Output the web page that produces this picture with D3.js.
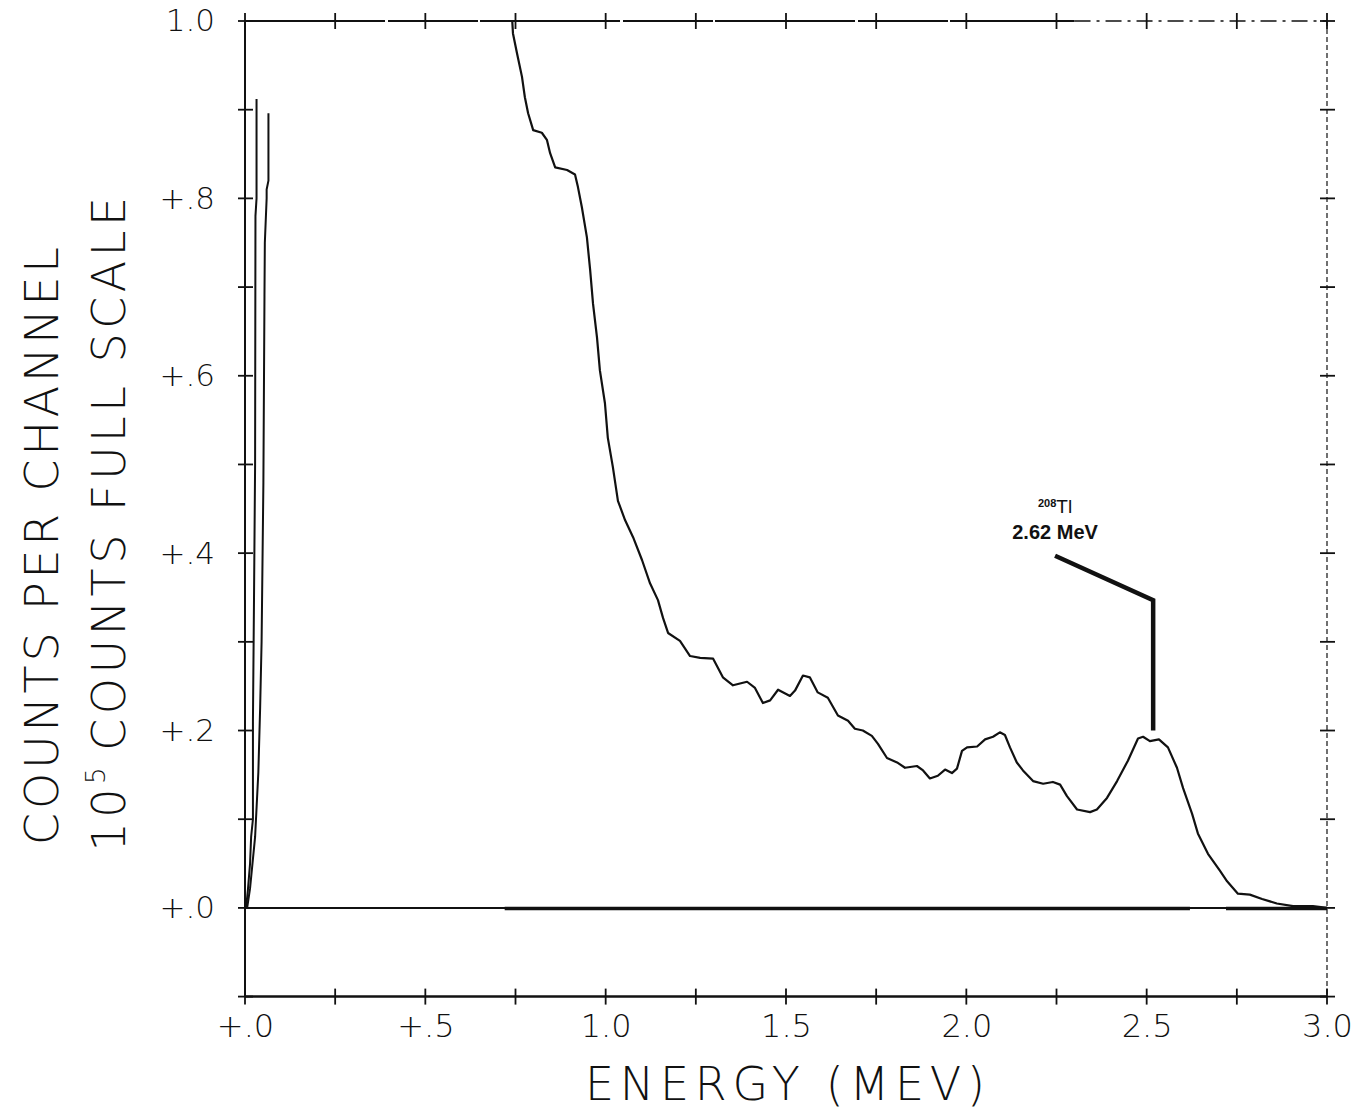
<!DOCTYPE html>
<html>
<head>
<meta charset="utf-8">
<script src="https://cdn.jsdelivr.net/npm/d3@7"></script>
<style>
  body { margin: 0; background: #fff; }
  svg { display: block; }
  .plotter { font-family: "DejaVu Sans", sans-serif; font-weight: 200; fill: #111; }
</style>
</head>
<body>
<svg></svg>
<script>
// Canvas
const width = 1372;
const height = 1111;

// Spectrum (energy in MeV, counts in 10^5 full scale)
const energy = [0.741, 0.743, 0.754, 0.768, 0.776, 0.785, 0.799, 0.823, 0.837, 0.846, 0.860,
  0.893, 0.915, 0.923, 0.934, 0.948, 0.957, 0.965, 0.976, 0.984, 0.998, 1.006, 1.020, 1.034,
  1.054, 1.076, 1.101, 1.123, 1.145, 1.159, 1.173, 1.206, 1.234, 1.262, 1.298, 1.325, 1.353,
  1.392, 1.414, 1.436, 1.456, 1.478, 1.511, 1.525, 1.547, 1.566, 1.588, 1.616, 1.644, 1.672,
  1.691, 1.713, 1.738, 1.755, 1.780, 1.808, 1.830, 1.863, 1.880, 1.899, 1.921, 1.941, 1.960,
  1.974, 1.988, 2.002, 2.030, 2.052, 2.074, 2.093, 2.107, 2.121, 2.140, 2.157, 2.185, 2.213,
  2.240, 2.260, 2.279, 2.307, 2.343, 2.362, 2.390, 2.418, 2.448, 2.476, 2.490, 2.509, 2.534,
  2.559, 2.584, 2.601, 2.626, 2.642, 2.670, 2.703, 2.723, 2.753, 2.786, 2.820, 2.861, 2.906,
  2.961, 3.000];
const counts = [1.000, 0.986, 0.964, 0.937, 0.914, 0.896, 0.877, 0.874, 0.866, 0.851, 0.835,
  0.832, 0.827, 0.813, 0.790, 0.756, 0.719, 0.681, 0.643, 0.606, 0.569, 0.530, 0.497, 0.459,
  0.437, 0.418, 0.392, 0.366, 0.347, 0.327, 0.310, 0.301, 0.284, 0.282, 0.281, 0.260, 0.251,
  0.255, 0.248, 0.231, 0.234, 0.246, 0.239, 0.245, 0.262, 0.260, 0.243, 0.237, 0.217, 0.211,
  0.202, 0.200, 0.194, 0.185, 0.169, 0.164, 0.158, 0.160, 0.155, 0.146, 0.149, 0.156, 0.152,
  0.157, 0.177, 0.181, 0.182, 0.190, 0.193, 0.198, 0.195, 0.181, 0.164, 0.155, 0.143, 0.140,
  0.142, 0.139, 0.126, 0.111, 0.108, 0.111, 0.124, 0.143, 0.166, 0.191, 0.193, 0.188, 0.190,
  0.181, 0.158, 0.135, 0.106, 0.084, 0.061, 0.042, 0.030, 0.016, 0.015, 0.010, 0.005, 0.002,
  0.002, 0.000];

// Low energy traces that run off the top (pen stopped before full scale)
const spikeAEnergy = [0.003, 0.008, 0.014, 0.017, 0.022, 0.022, 0.025, 0.028, 0.029, 0.032, 0.032];
const spikeACounts = [0.000, 0.020, 0.050, 0.080, 0.100, 0.210, 0.350, 0.500, 0.780, 0.800, 0.912];
const spikeBEnergy = [0.006, 0.014, 0.028, 0.037, 0.042, 0.046, 0.051, 0.054, 0.055, 0.060, 0.060, 0.065, 0.065];
const spikeBCounts = [0.000, 0.022, 0.080, 0.153, 0.226, 0.300, 0.480, 0.690, 0.750, 0.800, 0.810, 0.820, 0.896];

// Ticks and labels
const xTicks = d3.range(0, 3.01, 0.25);
const xLabelValues = [0, 0.5, 1.0, 1.5, 2.0, 2.5, 3.0];
const xTickLabels = ["+.0", "+.5", "1.0", "1.5", "2.0", "2.5", "3.0"];
const yTicks = d3.range(-0.1, 1.01, 0.1);
const yLabelValues = [0, 0.2, 0.4, 0.6, 0.8, 1.0];
const yTickLabels = ["+.0", "+.2", "+.4", "+.6", "+.8", "1.0"];

// Peak annotation (energy, counts)
const peakLabel = ["208", "Tl", "2.62 MeV"];
const leaderEnergy = [2.246, 2.518, 2.518];
const leaderCounts = [0.397, 0.347, 0.200];

const svg = d3.select("svg")
    .attr("width", width)
    .attr("height", height);

// Scales
const x = d3.scaleLinear().domain([0, 3]).range([245, 1327]);
const y = d3.scaleLinear().domain([-0.1, 1.0]).range([996.6, 21]);

const frame = svg.append("g");

// Left axis and bottom axis solid
frame.append("line")
    .attr("x1", x(0)).attr("x2", x(0))
    .attr("y1", y(1.0)).attr("y2", y(-0.1))
    .attr("stroke", "#111").attr("stroke-width", 2);
frame.append("line")
    .attr("x1", x(0)).attr("x2", x(3))
    .attr("y1", y(-0.1)).attr("y2", y(-0.1))
    .attr("stroke", "#111").attr("stroke-width", 2.5);
// Top border: mostly solid, broken near the right end
frame.append("line")
    .attr("x1", x(0)).attr("x2", x(2.3))
    .attr("y1", y(1.0)).attr("y2", y(1.0))
    .attr("stroke", "#111").attr("stroke-width", 2)
    .attr("stroke-dasharray", "140,3,90,2");
frame.append("line")
    .attr("x1", x(2.3)).attr("x2", x(3))
    .attr("y1", y(1.0)).attr("y2", y(1.0))
    .attr("stroke", "#111").attr("stroke-width", 1.5)
    .attr("stroke-dasharray", "16,6,3,6");
// Right border: dotted
frame.append("line")
    .attr("x1", x(3)).attr("x2", x(3))
    .attr("y1", y(1.0)).attr("y2", y(-0.1))
    .attr("stroke", "#111").attr("stroke-width", 1.2)
    .attr("stroke-dasharray", "5,3");

// Cross ticks
const crossX = frame.append("g");
[1.0, -0.1].forEach(v => {
    crossX.selectAll(null)
        .data(xTicks)
        .enter()
        .append("line")
        .attr("x1", d => x(d)).attr("x2", d => x(d))
        .attr("y1", y(v) - 8).attr("y2", y(v) + 8)
        .attr("stroke", "#111").attr("stroke-width", 1.8);
});
const crossY = frame.append("g");
[0, 3].forEach(u => {
    crossY.selectAll(null)
        .data(yTicks)
        .enter()
        .append("line")
        .attr("x1", x(u) - 7).attr("x2", x(u) + 8)
        .attr("y1", d => y(d)).attr("y2", d => y(d))
        .attr("stroke", "#111").attr("stroke-width", 1.8);
});

// Tick labels via d3 axes (no tick lines, crosses drawn above)
const xAxis = d3.axisBottom(x)
    .tickValues(xLabelValues)
    .tickFormat((d, i) => xTickLabels[i])
    .tickSize(0)
    .tickPadding(18);
svg.append("g")
    .attr("transform", `translate(0,${y(-0.1)})`)
    .call(xAxis)
    .call(g => g.select(".domain").remove())
    .selectAll("text")
    .attr("class", "plotter")
    .style("font-size", "32px");

const yAxis = d3.axisLeft(y)
    .tickValues(yLabelValues)
    .tickFormat((d, i) => yTickLabels[i])
    .tickSize(0)
    .tickPadding(30);
svg.append("g")
    .attr("transform", `translate(${x(0)},0)`)
    .call(yAxis)
    .call(g => g.select(".domain").remove())
    .selectAll("text")
    .attr("class", "plotter")
    .style("font-size", "31px");

// Zero line (heavier where the baseline was retraced)
svg.append("line")
    .attr("x1", x(0)).attr("x2", x(3))
    .attr("y1", y(0)).attr("y2", y(0))
    .attr("stroke", "#111").attr("stroke-width", 2);
[[0.72, 2.62], [2.72, 3.0]].forEach(([a, b]) => {
    svg.append("line")
        .attr("x1", x(a)).attr("x2", x(b))
        .attr("y1", y(0) + 0.5).attr("y2", y(0) + 0.5)
        .attr("stroke", "#111").attr("stroke-width", 3.5);
});

// Spectrum traces
const line = d3.line()
    .x(d => x(d[0]))
    .y(d => y(d[1]));

svg.append("path")
    .datum(d3.zip(energy, counts))
    .attr("d", line)
    .attr("fill", "none")
    .attr("stroke", "#111")
    .attr("stroke-width", 2.2)
    .attr("stroke-linejoin", "round");

[[spikeAEnergy, spikeACounts], [spikeBEnergy, spikeBCounts]].forEach(([e, c]) => {
    svg.append("path")
        .datum(d3.zip(e, c))
        .attr("d", line)
        .attr("fill", "none")
        .attr("stroke", "#111")
        .attr("stroke-width", 2)
        .attr("stroke-linejoin", "round");
});

// Peak annotation
svg.append("path")
    .datum(d3.zip(leaderEnergy, leaderCounts))
    .attr("d", line)
    .attr("fill", "none")
    .attr("stroke", "#111")
    .attr("stroke-width", 4.5);

const note = svg.append("text")
    .attr("x", x(leaderEnergy[0]))
    .attr("y", y(leaderCounts[0]) - 43)
    .attr("text-anchor", "middle")
    .style("font-family", "Liberation Sans, Arial, sans-serif")
    .style("fill", "#111");
note.append("tspan")
    .attr("dy", "-6")
    .style("font-size", "11px")
    .style("font-weight", "bold")
    .text(peakLabel[0]);
note.append("tspan")
    .attr("dy", "6")
    .style("font-size", "19px")
    .text(peakLabel[1]);
svg.append("text")
    .attr("x", x(leaderEnergy[0]))
    .attr("y", y(leaderCounts[0]) - 17)
    .attr("text-anchor", "middle")
    .style("font-family", "Liberation Sans, Arial, sans-serif")
    .style("font-weight", "bold")
    .style("font-size", "20px")
    .style("fill", "#111")
    .text(peakLabel[2]);

// Axis titles
svg.append("text")
    .attr("class", "plotter")
    .attr("x", 785)
    .attr("y", 1100)
    .attr("text-anchor", "middle")
    .attr("textLength", 400)
    .attr("lengthAdjust", "spacing")
    .style("font-size", "46px")
    .text("ENERGY (MEV)");

svg.append("text")
    .attr("class", "plotter")
    .attr("transform", "translate(58,546) rotate(-90)")
    .attr("text-anchor", "middle")
    .attr("textLength", 598)
    .attr("lengthAdjust", "spacing")
    .style("font-size", "46px")
    .text("COUNTS PER CHANNEL");

const t2 = svg.append("text")
    .attr("class", "plotter")
    .attr("transform", "translate(125,522) rotate(-90)")
    .attr("text-anchor", "middle")
    .style("font-size", "46px")
    .style("letter-spacing", "4.5px");
t2.append("tspan").text("10");
t2.append("tspan")
    .attr("dy", "-20")
    .style("font-size", "26px")
    .text("5");
t2.append("tspan")
    .attr("dy", "20")
    .attr("dx", "12")
    .text("COUNTS FULL SCALE");
</script>
</body>
</html>
